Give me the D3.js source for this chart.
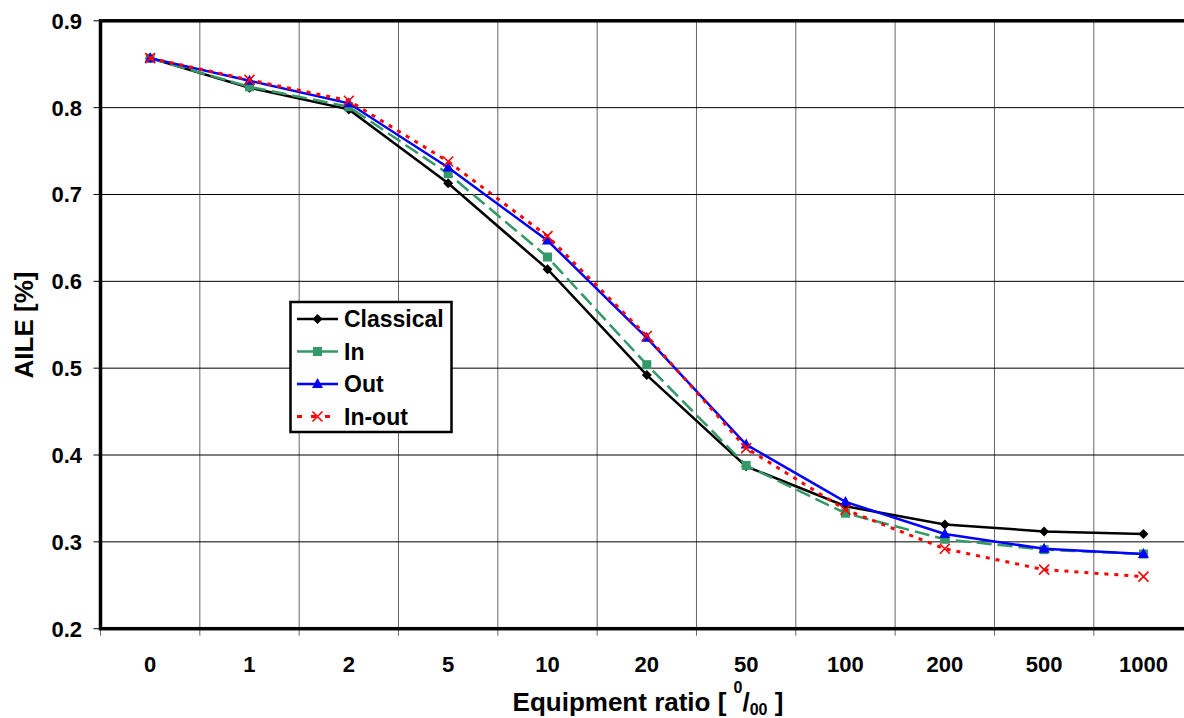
<!DOCTYPE html>
<html>
<head>
<meta charset="utf-8">
<script src="https://cdn.jsdelivr.net/npm/d3@7"></script>
<style>
  html, body { margin: 0; padding: 0; background: #fff; }
  svg { display: block; font-family: "Liberation Sans", Arial, sans-serif; }
</style>
</head>
<body>
<svg id="chart" width="1184" height="718"></svg>
<script>
// ---- data ----
const categories = ["0", "1", "2", "5", "10", "20", "50", "100", "200", "500", "1000"];
const classical = [0.857, 0.823, 0.798, 0.713, 0.614, 0.492, 0.387, 0.341, 0.320, 0.312, 0.309];
const inSeries  = [0.857, 0.824, 0.801, 0.724, 0.628, 0.504, 0.388, 0.333, 0.303, 0.291, 0.286];
const outSeries = [0.857, 0.831, 0.805, 0.731, 0.647, 0.535, 0.412, 0.346, 0.309, 0.292, 0.286];
const inOut     = [0.857, 0.832, 0.808, 0.738, 0.652, 0.537, 0.408, 0.337, 0.292, 0.268, 0.260];
const yTicks = [0.2, 0.3, 0.4, 0.5, 0.6, 0.7, 0.8, 0.9];
const seriesNames = ["Classical", "In", "Out", "In-out"];

(function () {
const series = [
  { name: seriesNames[0], values: classical, color: "#000000", dash: null, marker: "diamond" },
  { name: seriesNames[1], values: inSeries,  color: "#339966", dash: "15,6", marker: "square" },
  { name: seriesNames[2], values: outSeries, color: "#0000FF", dash: null, marker: "triangle" },
  { name: seriesNames[3], values: inOut,     color: "#FF0000", dash: "4,6", marker: "cross" }
];

const svg = d3.select("#chart");
const pLeft = 100.5, pTop = 20.8, pBottom = 628.7;
const band = 99.33;
const pRight = pLeft + band * categories.length;

const x = d3.scaleBand().domain(categories).range([pLeft, pRight]).paddingInner(0).paddingOuter(0);
const y = d3.scaleLinear().domain([0.2, 0.9]).range([pBottom, pTop]);
const cx = c => x(c) + x.bandwidth() / 2;

// vertical grid lines (gray)
svg.append("g").selectAll("line")
  .data(categories.slice(1))
  .join("line")
  .attr("x1", d => x(d)).attr("x2", d => x(d))
  .attr("y1", pTop).attr("y2", pBottom + 7)
  .attr("stroke", "#666").attr("stroke-width", 1);
svg.append("line").attr("x1", pLeft).attr("x2", pLeft).attr("y1", pBottom).attr("y2", pBottom + 7)
  .attr("stroke", "#666").attr("stroke-width", 1);

// horizontal grid lines
svg.append("g").selectAll("line")
  .data(yTicks.slice(1))
  .join("line")
  .attr("x1", pLeft - 7).attr("x2", pRight)
  .attr("y1", d => y(d)).attr("y2", d => y(d))
  .attr("stroke", "#000").attr("stroke-width", 1);
svg.append("line").attr("x1", pLeft - 7).attr("x2", pLeft).attr("y1", pBottom).attr("y2", pBottom)
  .attr("stroke", "#000").attr("stroke-width", 1);

// plot frame
svg.append("rect")
  .attr("x", pLeft).attr("y", pTop).attr("width", pRight - pLeft).attr("height", pBottom - pTop)
  .attr("fill", "none").attr("stroke", "#000").attr("stroke-width", 3.5);

// y tick labels
svg.append("g").selectAll("text")
  .data(yTicks)
  .join("text")
  .attr("x", 82).attr("y", d => y(d))
  .attr("dy", "0.36em")
  .attr("text-anchor", "end")
  .attr("font-size", 22).attr("font-weight", "bold")
  .text(d => d.toFixed(1));

// x tick labels
svg.append("g").selectAll("text")
  .data(categories)
  .join("text")
  .attr("x", d => cx(d)).attr("y", 672)
  .attr("text-anchor", "middle")
  .attr("font-size", 22).attr("font-weight", "bold")
  .text(d => d);

// axis titles
svg.append("text")
  .attr("transform", "translate(33,325) rotate(-90)")
  .attr("text-anchor", "middle")
  .attr("font-size", 26).attr("font-weight", "bold")
  .text("AILE [%]");

const xt = svg.append("text")
  .attr("x", 648).attr("y", 710.5)
  .attr("text-anchor", "middle")
  .attr("font-size", 26).attr("font-weight", "bold");
xt.append("tspan").text("Equipment ratio [ ");
xt.append("tspan").attr("font-size", 16).attr("dy", -18).text("0");
xt.append("tspan").attr("dy", 18).text("/");
xt.append("tspan").attr("font-size", 16).attr("dy", 4).text("00");
xt.append("tspan").attr("dy", -4).text(" ]");

function drawMarker(g, type, color, px, py) {
  if (type === "diamond") {
    g.append("path").attr("d", `M${px},${py-5}L${px+5},${py}L${px},${py+5}L${px-5},${py}Z`).attr("fill", color);
  } else if (type === "square") {
    g.append("rect").attr("x", px - 4.5).attr("y", py - 4.5).attr("width", 9).attr("height", 9).attr("fill", color);
  } else if (type === "triangle") {
    g.append("path").attr("d", `M${px},${py-6}L${px+5.5},${py+4}L${px-5.5},${py+4}Z`).attr("fill", color);
  } else if (type === "cross") {
    g.append("path").attr("d", `M${px-5},${py-5}L${px+5},${py+5}M${px+5},${py-5}L${px-5},${py+5}`)
      .attr("stroke", color).attr("stroke-width", 1.6).attr("fill", "none");
  }
}

const line = d3.line().x((d, i) => cx(categories[i])).y(d => y(d));

series.forEach(s => {
  const g = svg.append("g");
  g.append("path")
    .attr("d", line(s.values))
    .attr("fill", "none")
    .attr("stroke", s.color)
    .attr("stroke-width", s.marker === "cross" ? 3 : 2.5)
    .attr("stroke-dasharray", s.dash);
  s.values.forEach((v, i) => drawMarker(g, s.marker, s.color, cx(categories[i]), y(v)));
});

// legend
const lg = svg.append("g");
lg.append("rect").attr("x", 290.5).attr("y", 302).attr("width", 161).attr("height", 130)
  .attr("fill", "#fff").attr("stroke", "#000").attr("stroke-width", 2.5);
const rowY = [319, 351.5, 384, 416.5];
series.forEach((s, i) => {
  const ry = rowY[i];
  lg.append("line").attr("x1", 297).attr("x2", 338).attr("y1", ry).attr("y2", ry)
    .attr("stroke", s.color).attr("stroke-width", s.marker === "cross" ? 3 : 2.5)
    .attr("stroke-dasharray", s.marker === "cross" ? "5,9" : null);
  drawMarker(lg, s.marker, s.color, 317.5, ry);
  lg.append("text").attr("x", 344).attr("y", ry).attr("dy", "0.36em")
    .attr("font-size", 23).attr("font-weight", "bold").text(s.name);
});
})();
</script>
</body>
</html>
